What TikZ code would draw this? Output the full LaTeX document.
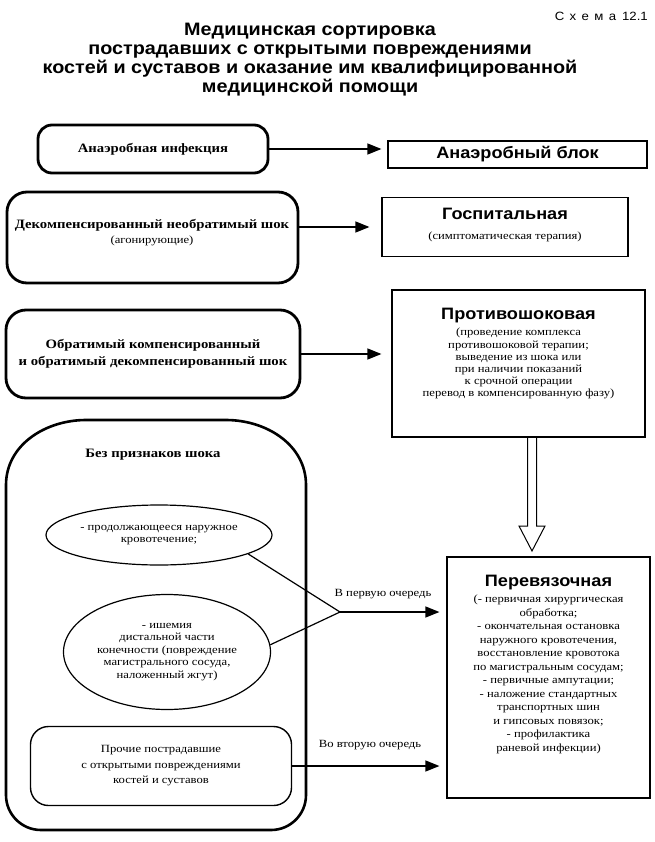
\documentclass[tikz,border=0pt]{standalone}
\usepackage{fontspec}
\setmainfont{Liberation Serif}[FakeStretch=1.15]
\setsansfont{Liberation Sans}[FakeStretch=1.1]
\usetikzlibrary{shapes.geometric,arrows.meta,calc}
\begin{document}
\begin{tikzpicture}[x=1pt,y=-1pt,
  lbox/.style={draw, line width=2.8pt, rounded corners=20pt, inner sep=0pt},
  rbox/.style={draw, line width=1.2pt, inner sep=0pt},
  ell/.style={draw, ellipse, line width=1.2pt, inner sep=0pt},
  lhead/.style={font=\bfseries\fontsize{12.8}{17}\selectfont, align=center, inner sep=0pt},
  body/.style={font=\fontsize{11}{12.5}\selectfont, align=center, inner sep=0pt},
  rtitle/.style={font=\sffamily\bfseries\fontsize{16.5}{19}\selectfont, inner sep=0pt},
  arr/.style={line width=1.3pt, -{Triangle[length=14pt,width=11pt]}},
  conn/.style={line width=1.2pt},
]
\useasboundingbox (0,0) rectangle (654,842);
\fill[white] (0,0) rectangle (654,842);

\node[anchor=east, inner sep=0pt, font={\sffamily\fontsize{12}{14}\selectfont}] (schema) at (648,16) {{\addfontfeature{LetterSpace=45}Схема}\hspace{6pt}12.1};

\node[font=\sffamily\bfseries\fontsize{18}{19}\selectfont, align=center, inner sep=0pt] (title) at (310,60) {Медицинская сортировка\\пострадавших с открытыми повреждениями\\костей и суставов и оказание им квалифицированной\\медицинской помощи};

% row 1
\node[lbox, lhead, rounded corners=14pt, minimum width=230pt, minimum height=48pt] (A1) at (153,149) {Анаэробная инфекция};
\node[rbox, rtitle, minimum width=259pt, minimum height=27pt] (B1) at (517.5,154.5) {Анаэробный блок};
\draw[arr, shorten >=6pt] (A1.east) -- (A1.east -| B1.west);

% row 2
\node[lbox, minimum width=291pt, minimum height=91pt] (A2) at (152.5,237.5) {};
\node[lhead] (A2a) at (152,225) {Декомпенсированный необратимый шок};
\node[body] (A2b) at (152,241) {(агонирующие)};
\node[rbox, minimum width=246pt, minimum height=59pt] (B2) at (505,227) {};
\node[rtitle] (B2a) at (505,214) {Госпитальная};
\node[body] (B2b) at (505,237) {(симптоматическая терапия)};
\draw[arr, shorten >=12pt] (A2.east |- B2.west) -- (B2.west);

% row 3
\node[lbox, lhead, minimum width=294pt, minimum height=88pt] (A3) at (153,354) {Обратимый компенсированный\\и обратимый декомпенсированный шок};
\node[rbox, minimum width=253pt, minimum height=147pt] (B3) at (518.5,363.5) {};
\node[rtitle] (B3a) at (518.5,316) {Противошоковая};
\node[body, anchor=north, font=\fontsize{11}{12.2}\selectfont] (B3b) at (518.5,328) {(проведение комплекса\\противошоковой терапии;\\выведение из шока или\\при наличии показаний\\к срочной операции\\перевод в компенсированную фазу)};
\draw[arr, shorten >=10pt] (A3.east) -- (A3.east -| B3.west);

% hollow arrow
\draw[line width=1pt, line join=miter] (527.5,437) -- (527.5,526) -- (519,526) -- (532,551) -- (545,526) -- (536.5,526) -- (536.5,437);

% big box
\draw[line width=2.6pt] (6,485) to[out=90,in=180] (86,420) -- (226,420) to[out=0,in=90] (306,485) -- (306,795) to[out=-90,in=0] (271,830) -- (41,830) to[out=180,in=-90] (6,795) -- cycle;
\node[lhead] (nos) at (153,455) {Без признаков шока};

\node[ell, minimum width=226pt, minimum height=60pt] (e1) at (159,535) {};
\node[body] (e1t) at (e1) {- продолжающееся наружное\\кровотечение;};
\node[ell, minimum width=207pt, minimum height=115pt] (e2) at (167,652) {};
\node[body] (e2t) at (e2) {- ишемия\\дистальной части\\конечности (повреждение\\магистрального сосуда,\\наложенный жгут)};
\node[rbox, body, rounded corners=18pt, line width=1.4pt, minimum width=261pt, minimum height=79pt, font=\fontsize{11}{15.5}\selectfont] (C) at (161,766) {Прочие пострадавшие\\с открытыми повреждениями\\костей и суставов};

% dressing room
\node[rbox, minimum width=203pt, minimum height=241pt] (B4) at (548.5,677.5) {};
\node[rtitle] (B4a) at (548.5,583) {Перевязочная};
\node[body, anchor=north, font=\fontsize{11}{13.5}\selectfont] (B4b) at (548.5,595) {(- первичная хирургическая\\обработка;\\- окончательная остановка\\наружного кровотечения,\\восстановление кровотока\\по магистральным сосудам;\\- первичные ампутации;\\- наложение стандартных\\транспортных шин\\и гипсовых повязок;\\- профилактика\\раневой инфекции)};

\coordinate (j) at (340,612);
\draw[conn] (e1.-12) -- (j);
\draw[conn] (e2.4) -- (j);
\draw[arr, shorten >=7pt] (j) -- (j -| B4.west);
\node[body] (l1) at (383,594) {В первую очередь};
\draw[arr, shorten >=7pt] (C.east) -- (C.east -| B4.west);
\node[body] (l2) at (370,745) {Во вторую очередь};
\end{tikzpicture}
\end{document}
